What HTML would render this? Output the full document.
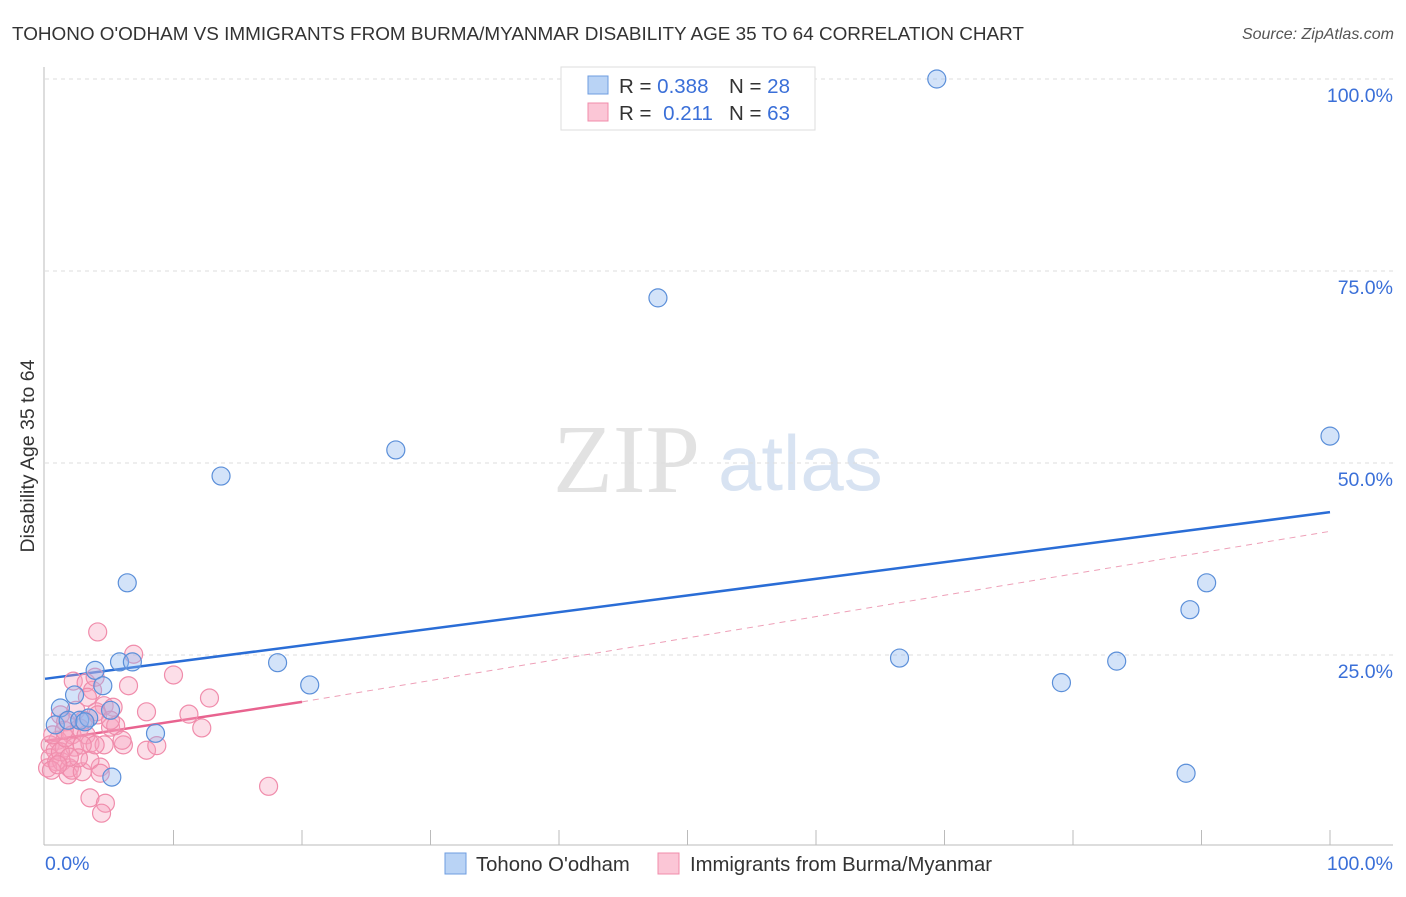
<!DOCTYPE html>
<html><head><meta charset="utf-8"><style>
body{margin:0;background:#fff;font-family:"Liberation Sans",sans-serif}
</style></head><body>
<svg id="c" width="1406" height="892" xmlns="http://www.w3.org/2000/svg" style="font-family:'Liberation Sans',sans-serif">
<text x="12" y="40" font-size="18.9" fill="#333">TOHONO O'ODHAM VS IMMIGRANTS FROM BURMA/MYANMAR DISABILITY AGE 35 TO 64 CORRELATION CHART</text>
<text x="1394" y="39" font-size="16" fill="#555" font-style="italic" text-anchor="end">Source: ZipAtlas.com</text>
<g>
<text x="553" y="492" font-family="'Liberation Serif',serif" font-size="98" fill="#e2e2e2">ZIP</text>
<text x="718" y="490" font-size="78" fill="#d8e3f2">atlas</text>
</g>
<g id="grid"></g><g id="axes"></g><g id="lines"></g><g id="pts"></g>
<text x="34" y="456" font-size="19.5" fill="#333" text-anchor="middle" transform="rotate(-90 34 456)">Disability Age 35 to 64</text>
<text x="45" y="870" font-size="19.5" fill="#3a6fd8">0.0%</text>
<text x="1393" y="870" font-size="19.5" fill="#3a6fd8" text-anchor="end">100.0%</text>
<g>
<rect x="561" y="67" width="254" height="63" fill="#fff" stroke="#ddd"/>
<rect x="588" y="76" width="20" height="18" fill="#b9d3f5" stroke="#6e9de0"/>
<rect x="588" y="103" width="20" height="18" fill="#fbc6d6" stroke="#f08cab"/>
<text x="619" y="93" font-size="20.5" fill="#333">R = <tspan fill="#3a6fd8">0.388</tspan></text>
<text x="729" y="93" font-size="20.5" fill="#333">N = <tspan fill="#3a6fd8">28</tspan></text>
<text x="619" y="120" font-size="20.5" fill="#333">R = <tspan fill="#3a6fd8" dx="6">0.211</tspan></text>
<text x="729" y="120" font-size="20.5" fill="#333">N = <tspan fill="#3a6fd8">63</tspan></text>
</g>
<g>
<rect x="445" y="853" width="21" height="21" fill="#b9d3f5" stroke="#6e9de0"/>
<text x="476" y="871" font-size="20.3" fill="#333">Tohono O'odham</text>
<rect x="658" y="853" width="21" height="21" fill="#fbc6d6" stroke="#f08cab"/>
<text x="690" y="871" font-size="20.3" fill="#333">Immigrants from Burma/Myanmar</text>
</g>
</svg>
<script>
const yTicks=[25,50,75,100];
const yTickLabels=["25.0%","50.0%","75.0%","100.0%"];
const blueX=[69.4,47.7,27.3,13.7,100,6.4,90.4,89.1,66.5,83.4,79.1,18.1,20.6,88.8,3.9,5.8,6.8,4.5,2.3,1.2,5.1,0.8,1.8,2.7,3.4,8.6,5.2,3.1];
const blueY=[100,71.5,51.7,48.3,53.5,34.4,34.4,30.9,24.6,24.2,21.4,24.0,21.1,9.6,23.0,24.1,24.1,21.0,19.8,18.1,17.8,15.9,16.5,16.5,16.8,14.8,9.1,16.3];
const pinkX=[4.1,6.9,10.0,12.8,6.5,2.2,3.2,3.7,3.9,3.3,4.6,5.3,4.0,7.9,11.2,12.2,5.1,2.4,1.2,1.6,2.7,2.1,3.2,1.0,0.4,0.8,1.5,2.3,3.5,4.6,6.1,7.9,8.7,0.4,0.9,0.2,1.3,1.9,1.8,2.1,2.9,4.3,1.2,1.6,3.5,3.9,0.6,2.9,5.5,3.5,4.7,4.4,17.4,2.6,1.9,3.0,4.1,0.5,1.0,5.1,6.0,1.5,4.3];
const pinkY=[28.0,25.1,22.4,19.4,21.0,21.6,21.4,20.4,22.1,19.5,18.4,18.2,17.6,17.6,17.3,15.5,15.6,17.8,17.2,16.3,15.5,14.6,14.6,13.9,13.3,12.6,12.9,13.0,13.5,13.3,13.3,12.6,13.2,11.6,11.1,10.3,11.1,10.3,9.4,10.0,9.8,10.4,12.4,14.2,11.3,13.3,14.6,13.3,15.8,6.4,5.7,4.4,7.9,11.6,11.7,16.5,17.2,10.0,10.7,16.5,13.9,15.2,9.6];
const blueLine=[21.9,43.6];
const pinkLine=[13.8,18.9,41.1];
const pinkSolidEnd=20;
const NS="http://www.w3.org/2000/svg";
const sx=v=>45+v*12.85, sy=v=>847-v*7.68;
function mk(t,a,p){const e=document.createElementNS(NS,t);for(const k in a)e.setAttribute(k,a[k]);p.appendChild(e);return e;}
const grid=document.getElementById('grid'),axes=document.getElementById('axes'),lines=document.getElementById('lines'),pts=document.getElementById('pts');
yTicks.forEach((v,i)=>{
 const l=mk('line',{x1:45,x2:1393,y1:sy(v),y2:sy(v),stroke:'#ddd','stroke-dasharray':'4,4'},grid);
 
 
 const t=mk('text',{x:1393,y:sy(v)+23,'font-size':19.5,fill:'#3a6fd8','text-anchor':'end'},grid);
 t.textContent=yTickLabels[i];
 
 
});
const ya=mk('line',{x1:44,x2:44,y1:67,y2:845,stroke:'#bbb'},axes);


const xa=mk('line',{x1:44,x2:1393,y1:845,y2:845,stroke:'#bbb'},axes);


for(let i=1;i<=10;i++){const tk=mk('line',{x1:sx(i*10),x2:sx(i*10),y1:830,y2:845,stroke:'#bbb'},axes);
 
 }
const bl=mk('line',{x1:sx(0),y1:sy(blueLine[0]),x2:sx(100),y2:sy(blueLine[1]),stroke:'#2a6dd6','stroke-width':2.5},lines);


const pd=mk('line',{x1:sx(pinkSolidEnd),y1:sy(pinkLine[1]),x2:sx(100),y2:sy(pinkLine[2]),stroke:'#eea0b8','stroke-width':1,'stroke-dasharray':'6,5'},lines);


const ps=mk('line',{x1:sx(0),y1:sy(pinkLine[0]),x2:sx(pinkSolidEnd),y2:sy(pinkLine[1]),stroke:'#e8638f','stroke-width':2.5},lines);


pinkX.forEach((x,i)=>{const c=mk('circle',{cx:sx(x),cy:sy(pinkY[i]),r:9,fill:'rgba(246,160,188,0.35)',stroke:'#f08cab','stroke-width':1.2},pts);
 
 });
blueX.forEach((x,i)=>{const c=mk('circle',{cx:sx(x),cy:sy(blueY[i]),r:9,fill:'rgba(140,182,238,0.38)',stroke:'#5b8fd9','stroke-width':1.2},pts);
 
 });
</script>
</body></html>
